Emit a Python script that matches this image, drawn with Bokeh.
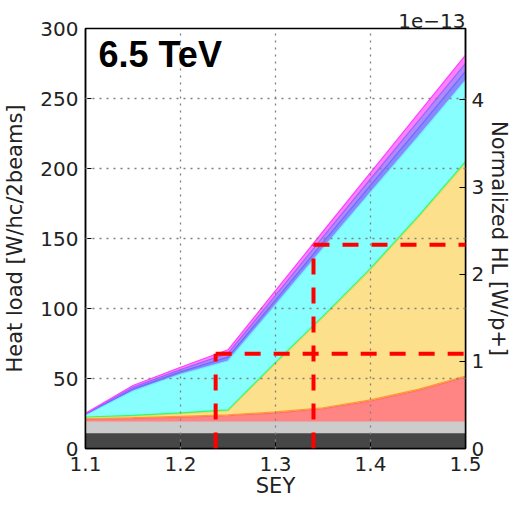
import numpy as np
from bokeh.plotting import figure
from bokeh.models import (Range1d, LinearAxis, FixedTicker, ColumnDataSource,
                          Arrow, Label)
from bokeh.embed import file_html
from bokeh.resources import INLINE

# ---------------- data ----------------
sey = [1.1, 1.15, 1.2, 1.25, 1.3, 1.35, 1.4, 1.45, 1.5]
layer_dark   = [10.5, 10.5, 10.5, 10.5, 10.5, 10.5, 10.5, 10.5, 10.5]
layer_light  = [8.3, 8.3, 8.3, 8.3, 8.3, 8.3, 8.3, 8.3, 8.3]
layer_red    = [2.0, 2.6, 3.5, 4.6, 6.5, 9.5, 15.0, 22.5, 32.0]
layer_orange = [0.7, 0.7, 0.7, 0.7, 0.8, 0.8, 0.9, 0.9, 1.0]
layer_yellow = [0.5, 0.9, 1.8, 2.7, 34.4, 64.4, 92.8, 122.3, 151.7]
layer_green  = [0.5, 0.6, 0.7, 0.8, 1.0, 1.1, 1.2, 1.3, 1.4]
layer_cyan   = [1.5, 17.4, 27.5, 34.9, 41.0, 48.4, 54.3, 56.7, 58.1]
layer_blue   = [0.4, 1.4, 1.7, 2.8, 3.5, 4.2, 4.9, 5.8, 6.3]
layer_violet = [0.4, 1.3, 1.6, 2.6, 3.3, 3.9, 4.6, 5.3, 5.8]
layer_magenta = [0.4, 1.3, 1.7, 2.6, 3.4, 3.9, 4.5, 5.4, 5.9]

threshold_sey = [1.237, 1.34]
threshold_hl = [67.6, 145.5]

x_ticks = [1.1, 1.2, 1.3, 1.4, 1.5]
y_ticks = [0, 50, 100, 150, 200, 250, 300]
norm_ticks = [0, 1, 2, 3, 4]
norm_max = 4.82  # right axis top (units of 1e-13 W/p+)

# ---------------- figure ----------------
names = ["dark", "light", "red", "orange", "yellow", "green", "cyan",
         "blue", "violet", "magenta"]
layers = [layer_dark, layer_light, layer_red, layer_orange, layer_yellow,
          layer_green, layer_cyan, layer_blue, layer_violet, layer_magenta]
fills = ["#464646", "#cccccc", "#ff8585", "#ffb060", "#fde08c", "#70ff90",
         "#88ffff", "#8888ff", "#b088ff", "#ff80ff"]
edges = ["#464646", "#cccccc", "#ff7070", "#ff9a30", "#fbd070", "#30ff60",
         "#70f0ff", "#6a6aff", "#a060ff", "#ff40ff"]

data = {"x": sey}
for n, l in zip(names, layers):
    data[n] = l
src = ColumnDataSource(data)

p = figure(width=514, height=505, x_range=Range1d(1.1, 1.5),
           y_range=Range1d(0, 300), output_backend="svg",
           toolbar_location=None, min_border_left=83, min_border_right=49,
           min_border_top=28, min_border_bottom=57)
p.extra_y_ranges = {"norm": Range1d(0, norm_max)}

p.varea_stack(stackers=names, x="x", color=fills, source=src)
p.vline_stack(stackers=names, x="x", color=edges, line_width=1.2,
              source=src)

font = "DejaVu Sans"
tick_fs = "20px"
lab_fs = "21px"

def style_axis(ax, ticks):
    ax.ticker = FixedTicker(ticks=ticks)
    ax.major_tick_in = 6
    ax.major_tick_out = 0
    ax.minor_tick_in = 0
    ax.minor_tick_out = 0
    ax.major_tick_line_color = "black"
    ax.axis_line_color = "black"
    ax.axis_line_width = 1.5
    ax.major_label_text_font = font
    ax.major_label_text_font_size = tick_fs
    ax.major_label_text_color = "#222222"
    ax.major_label_standoff = 7
    ax.axis_label_text_font = font
    ax.axis_label_text_font_size = lab_fs
    ax.axis_label_text_font_style = "normal"
    ax.axis_label_text_color = "#222222"
    ax.axis_label_standoff = 10

xa = p.xaxis[0]
style_axis(xa, x_ticks)
xa.axis_label = "SEY"
xa.major_label_standoff = 8
xa.axis_label_standoff = 0

ya = p.yaxis[0]
style_axis(ya, y_ticks)
ya.axis_label = "Heat load [W/hc/2beams]"

ra = LinearAxis(y_range_name="norm", axis_label="Normalized HL [W/p+]")
style_axis(ra, norm_ticks)
ra.major_label_standoff = 6
ra.axis_label_standoff = 0
p.add_layout(ra, "right")

for g, t in ((p.xgrid[0], x_ticks), (p.ygrid[0], y_ticks)):
    g.ticker = FixedTicker(ticks=t)
    g.grid_line_color = "#808080"
    g.grid_line_dash = "2 5"
    g.grid_line_width = 1.3
    g.level = "guide"

p.outline_line_color = "black"
p.outline_line_width = 1.5
p.background_fill_color = "white"
p.border_fill_color = "white"

# offset text of the right axis, shown as title
p.title.text = "1e\u221213"
p.title.align = "right"
p.title.text_font = font
p.title.text_font_size = "20px"
p.title.text_font_style = "normal"
p.title.text_color = "#222222"
p.title.standoff = 2

# threshold dashed lines
for xs, ys in zip(threshold_sey, threshold_hl):
    p.add_layout(Arrow(end=None, x_start=xs, y_start=0, x_end=xs, y_end=ys,
                       line_color="#ff0000", line_width=4,
                       line_dash="16 13"))
    p.add_layout(Arrow(end=None, x_start=xs, y_start=ys, x_end=1.56,
                       y_end=ys, line_color="#ff0000", line_width=4,
                       line_dash="16 13"))

p.add_layout(Label(x=1.1, y=300, x_offset=13, y_offset=-5, text="6.5 TeV",
                   text_font="Liberation Sans", text_font_size="36px",
                   text_font_style="bold", text_baseline="top",
                   text_align="left", text_color="black"))

open("out.html", "w").write(file_html(p, INLINE))
